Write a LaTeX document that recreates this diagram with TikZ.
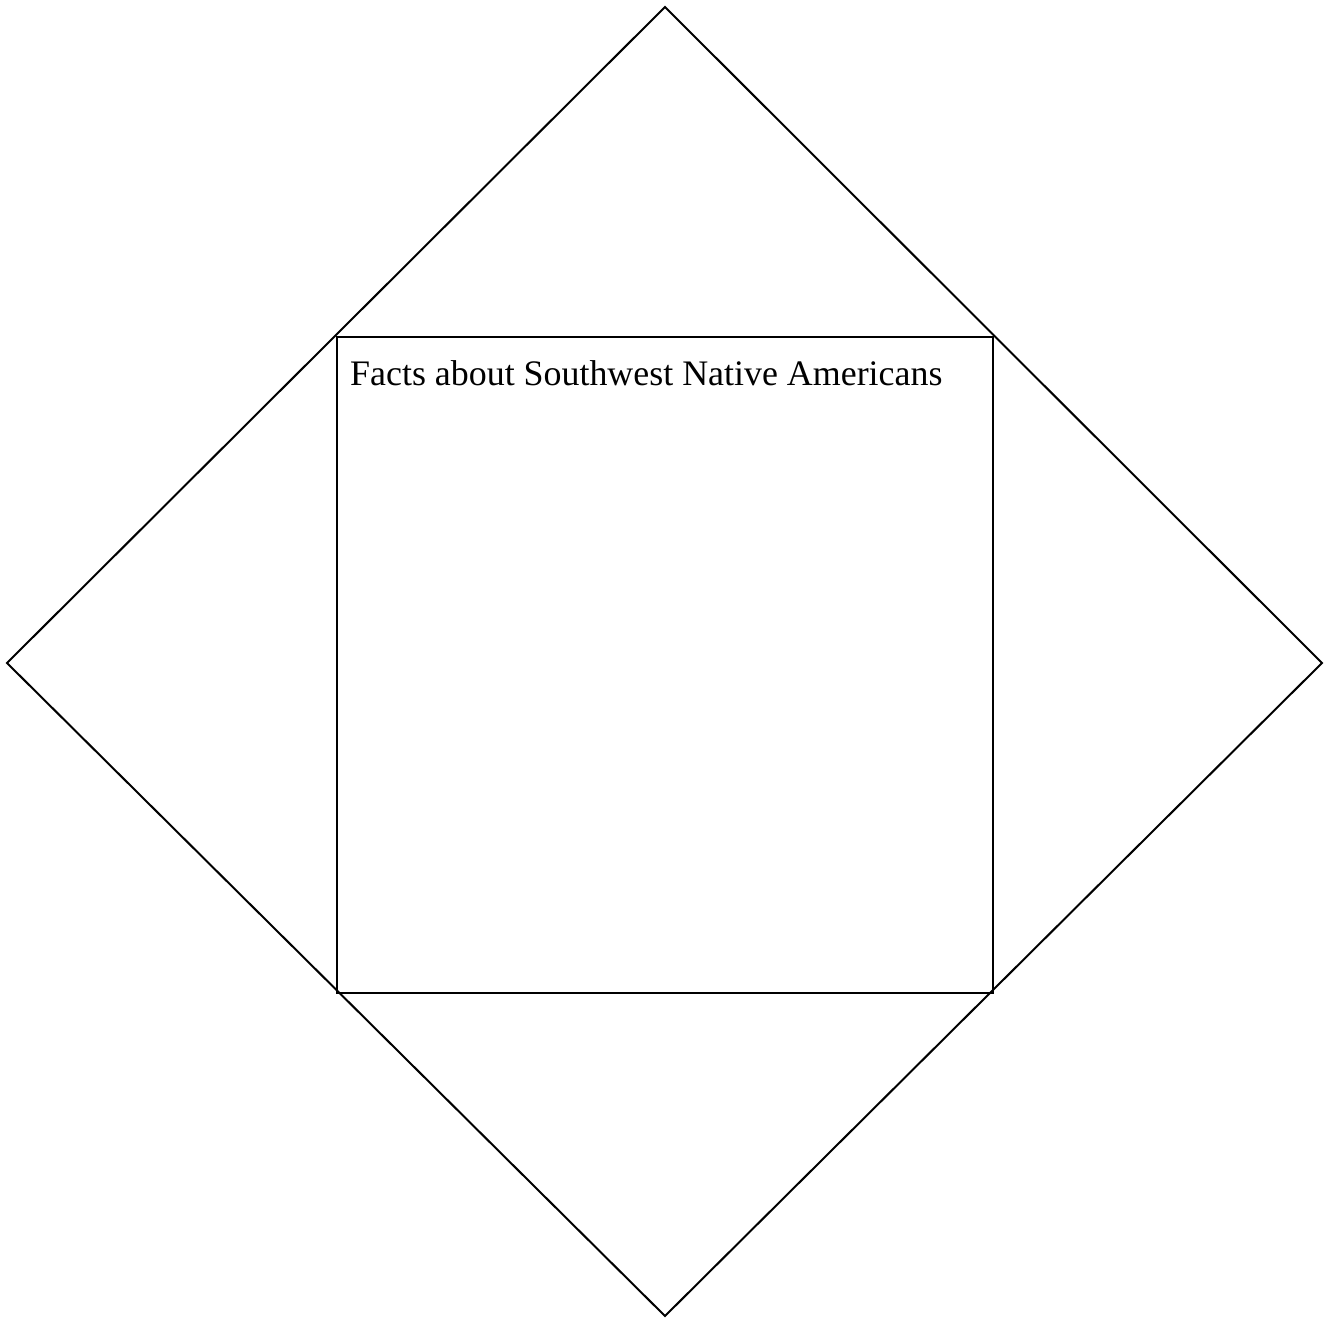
\documentclass[tikz,border=0pt]{standalone}
\usepackage{fontspec}
\setmainfont{Liberation Serif}
\begin{document}
\begin{tikzpicture}[x=1pt,y=-1pt,
  shape line/.style={draw=black,line width=2pt,line join=miter},
  title text/.style={anchor=base west,inner sep=0pt,font=\fontsize{35.9}{40}\selectfont}]
\useasboundingbox (0,0) rectangle (1328,1322);
\coordinate (top) at (665,7);
\coordinate (left) at (7,663);
\coordinate (right) at (1322,663);
\coordinate (bottom) at (665,1316);
\draw[shape line] (top) -- (right) -- (bottom) -- (left) -- cycle;
\node[shape line,rectangle,minimum width=656pt,minimum height=656pt,inner sep=0pt] (box) at (665,665) {};
\node[title text] (title) at (350,385) {Facts about Southwest Native Americans};
\end{tikzpicture}
\end{document}
